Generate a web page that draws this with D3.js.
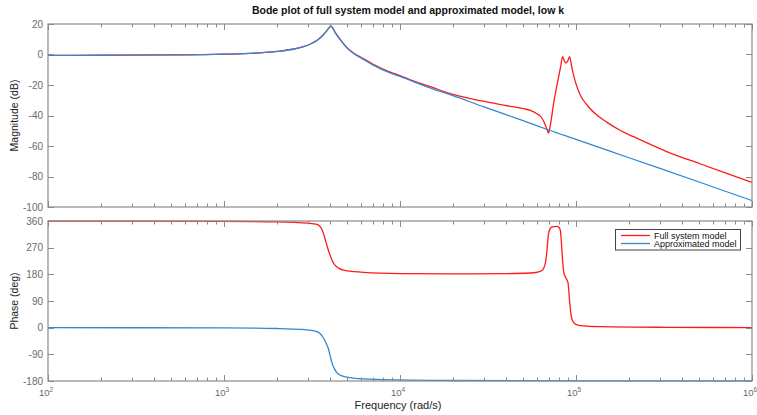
<!DOCTYPE html>
<html>
<head>
<meta charset="utf-8">
<script src="https://cdn.jsdelivr.net/npm/d3@7"></script>
<style>
  html, body { margin: 0; padding: 0; background: #fff; }
  svg { display: block; font-family: "Liberation Sans", Arial, Helvetica, sans-serif; }
</style>
</head>
<body>
<svg id="chart" width="757" height="415"></svg>
<script>
// ---- chart text and ticks ----
const titleText = "Bode plot of full system model and approximated model, low k";
const magLabel = "Magnitude (dB)";
const phaseLabel = "Phase (deg)";
const freqLabel = "Frequency  (rad/s)";
const seriesNames = ["Full system model", "Approximated model"];
const magTicks = [20, 0, -20, -40, -60, -80, -100];
const phaseTicks = [360, 270, 180, 90, 0, -90, -180];
const decadeTicks = [1e2, 1e3, 1e4, 1e5, 1e6];

// ---- magnitude (dB) vs frequency (rad/s) ----
const fullMag = [
  [100, -0.6], [200, -0.5], [500, -0.3], [1000, 0.2], [1500, 0.9], [2000, 2.0],
  [2500, 3.6], [2800, 5.0], [3100, 6.9], [3400, 9.5], [3650, 12.6], [3850, 15.8],
  [3980, 17.9], [4060, 18.6], [4150, 17.3], [4300, 14.2], [4570, 10.0], [5000, 4.5],
  [5500, 0.7], [6000, -1.8], [7000, -6.2], [8790, -11.5], [10000, -13.8], [11430, -16.6],
  [14850, -21.0], [19280, -25.6], [25060, -28.9], [32570, -31.5], [42260, -34.0],
  [50350, -35.5], [55000, -36.6], [59950, -38.8], [62600, -40.4], [64100, -41.8],
  [66800, -46.0], [68500, -49.2], [69800, -51.6], [70900, -48.5], [72500, -42],
  [74600, -32], [78000, -20], [81500, -9], [84000, -1.4], [85800, -4.2], [87700, -5.6],
  [89800, -4.2], [92000, -1.4], [94900, -9.1], [99100, -17.8], [105700, -26.6],
  [115400, -33.1], [131400, -39.7], [150000, -44.5], [180000, -50.0], [212000, -53.9],
  [330000, -63.8], [510000, -71.8], [787000, -79.6], [1000000, -83.9]
];
const approxMag = [
  [100, -0.6], [200, -0.5], [500, -0.3], [1000, 0.2], [1500, 0.9], [2000, 2.0],
  [2500, 3.6], [2800, 5.0], [3100, 6.9], [3400, 9.5], [3650, 12.6], [3850, 15.8],
  [3980, 17.9], [4060, 18.6], [4150, 17.2], [4300, 14.0], [4570, 9.8], [5000, 4.2],
  [5500, 0.3], [6000, -2.2], [7000, -6.8], [8790, -12.1], [10000, -14.4], [14000, -20.9],
  [20000, -27.0], [30000, -34.4], [50000, -43.4], [70000, -49.5], [100000, -55.6],
  [200000, -67.7], [500000, -83.6], [1000000, -95.8]
];

// ---- phase (deg) vs frequency (rad/s) ----
const fullPhase = [
  [100, 359.8], [1000, 358.8], [2000, 357], [3000, 352.5], [3373, 349], [3597, 332],
  [3750, 300], [3840, 278], [4009, 244], [4150, 222], [4284, 210], [4500, 200],
  [4780, 194], [5500, 189], [6206, 186.5], [10000, 182.5], [20000, 181.5], [40000, 182.5],
  [55000, 184.5], [60000, 187], [64100, 193], [66800, 215], [68400, 260], [69800, 317],
  [71300, 334], [73000, 340], [78000, 342], [80000, 338], [81470, 328], [82300, 300],
  [83200, 260], [84200, 215], [85100, 190], [86900, 172], [88500, 163], [90000, 153],
  [91000, 125], [91600, 102], [92600, 70], [93600, 46], [95000, 28], [96900, 18],
  [100000, 11], [105700, 7], [137400, 3.5], [328600, 1.2], [1000000, 0.3]
];
const approxPhase = [
  [100, -0.1], [1000, -0.9], [2000, -2.8], [2800, -6], [3200, -10], [3450, -16],
  [3675, -35], [3820, -55], [3923, -72], [4010, -95], [4103, -118], [4250, -140],
  [4378, -152], [4600, -161], [4993, -167], [6206, -173], [10000, -176.5],
  [20000, -178.3], [100000, -179.6], [1000000, -179.9]
];

const seriesColors = ["#ff1a1a", "#3088cf"];

// ---- layout ----
const svg = d3.select("#chart");
const left = 48, right = 752;
const x = d3.scaleLog().domain([1e2, 1e6]).range([left, right]);
const yMag = d3.scaleLinear().domain([-100, 20]).range([207, 24]);
const yPh = d3.scaleLinear().domain([-180, 360]).range([381, 221]);

const axisColor = "#8a8a8a";
const tickTextColor = "#6a6a6a";

// minor ticks 2..9 inside each decade
const minorTicks = [];
for (let d = 1e2; d < 1e6; d *= 10) for (let k = 2; k <= 9; k++) minorTicks.push(k * d);

const defs = svg.append("defs");

function drawPanel(id, y, yTicks, series, showXLabels) {
  const [yb, yt] = y.range();
  defs.append("clipPath").attr("id", id)
    .append("rect").attr("x", left).attr("y", yt - 1).attr("width", right - left).attr("height", yb - yt + 2);

  const g = svg.append("g");

  // data lines
  const line = d3.line().x(d => x(d[0])).y(d => y(d[1])).curve(d3.curveMonotoneX);
  const lg = g.append("g").attr("clip-path", `url(#${id})`);
  series.forEach((s, i) => {
    lg.append("path").datum(s).attr("d", line)
      .attr("fill", "none").attr("stroke", seriesColors[i]).attr("stroke-width", 1.3)
      .attr("stroke-linejoin", "round");
  });

  // box
  g.append("rect").attr("x", left).attr("y", yt).attr("width", right - left).attr("height", yb - yt)
    .attr("fill", "none").attr("stroke", axisColor).attr("stroke-width", 1.2);

  // x ticks, pointing inward from top and bottom edges
  const tg = g.append("g").attr("stroke", axisColor).attr("stroke-width", 1);
  decadeTicks.forEach(f => {
    const xv = Math.round(x(f)) + 0.5;
    tg.append("line").attr("x1", xv).attr("x2", xv).attr("y1", yt).attr("y2", yt + 6);
    tg.append("line").attr("x1", xv).attr("x2", xv).attr("y1", yb).attr("y2", yb - 6);
  });
  minorTicks.forEach(f => {
    const xv = Math.round(x(f)) + 0.5;
    tg.append("line").attr("x1", xv).attr("x2", xv).attr("y1", yt).attr("y2", yt + 3.5);
    tg.append("line").attr("x1", xv).attr("x2", xv).attr("y1", yb).attr("y2", yb - 3.5);
  });

  // y ticks both sides
  yTicks.forEach(v => {
    const yv = Math.round(y(v)) + 0.5;
    tg.append("line").attr("x1", left).attr("x2", left + 6).attr("y1", yv).attr("y2", yv);
    tg.append("line").attr("x1", right).attr("x2", right - 6).attr("y1", yv).attr("y2", yv);
    g.append("text").attr("x", left - 5).attr("y", y(v)).attr("dy", "0.35em")
      .attr("text-anchor", "end").attr("font-size", 10).attr("fill", tickTextColor).text(v);
  });

  if (showXLabels) {
    decadeTicks.forEach(f => {
      const t = g.append("text").attr("x", x(f) - 2).attr("y", yb + 15)
        .attr("text-anchor", "middle").attr("font-size", 9.5).attr("fill", tickTextColor);
      t.append("tspan").text("10");
      t.append("tspan").attr("font-size", 6.5).attr("dy", -4).text(Math.round(Math.log10(f)));
    });
  }
}

drawPanel("clipMag", yMag, magTicks, [fullMag, approxMag], false);
drawPanel("clipPh", yPh, phaseTicks, [fullPhase, approxPhase], true);

// title and axis labels
svg.append("text").attr("x", 408).attr("y", 14).attr("text-anchor", "middle")
  .attr("font-size", 10.5).attr("font-weight", "bold").attr("fill", "#111").text(titleText);
svg.append("text").attr("transform", `translate(18,${(yMag.range()[0] + yMag.range()[1]) / 2}) rotate(-90)`)
  .attr("text-anchor", "middle").attr("font-size", 10.5).attr("fill", "#222").text(magLabel);
svg.append("text").attr("transform", `translate(18,${(yPh.range()[0] + yPh.range()[1]) / 2}) rotate(-90)`)
  .attr("text-anchor", "middle").attr("font-size", 10.5).attr("fill", "#222").text(phaseLabel);
svg.append("text").attr("x", 398).attr("y", 409).attr("text-anchor", "middle")
  .attr("font-size", 11).attr("fill", "#222").text(freqLabel);

// legend
const leg = svg.append("g");
leg.append("rect").attr("x", 615.5).attr("y", 229.5).attr("width", 125).attr("height", 20.5)
  .attr("fill", "#fff").attr("stroke", "#444").attr("stroke-width", 1);
seriesNames.forEach((name, i) => {
  const ly = 235.5 + i * 8;
  leg.append("line").attr("x1", 621).attr("x2", 650).attr("y1", ly).attr("y2", ly)
    .attr("stroke", seriesColors[i]).attr("stroke-width", 1.3);
  leg.append("text").attr("x", 654).attr("y", ly).attr("dy", "0.35em")
    .attr("font-size", 9).attr("fill", "#111").text(name);
});
</script>
</body>
</html>
